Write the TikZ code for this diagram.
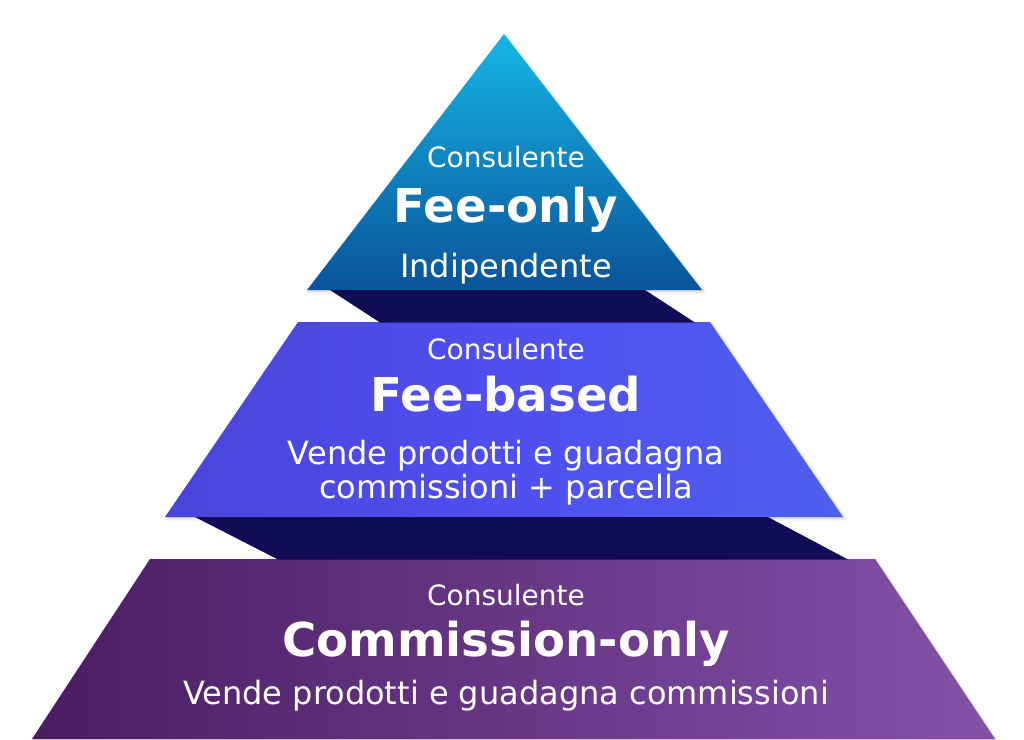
\documentclass[tikz,border=0pt]{standalone}
\usepackage{fontspec}
\setmainfont{DejaVu Sans}
\usetikzlibrary{shadows.blur}
\definecolor{topA}{HTML}{15B6E5}
\definecolor{topB}{HTML}{0A539A}
\definecolor{band}{HTML}{110C56}
\definecolor{botL}{HTML}{4A1D62}
\definecolor{botR}{HTML}{8451A9}
\pgfdeclarehorizontalshading{midshade}{100bp}{rgb(0bp)=(0.27,0.23,0.76); rgb(50bp)=(0.31,0.31,0.94); rgb(100bp)=(0.31,0.43,0.92)}
\tikzset{
  x=0.75pt, y=-0.75pt,
  soft/.style={blur shadow={shadow xshift=1.2pt, shadow yshift=-1.2pt, shadow blur radius=2pt, shadow opacity=22}},
  lbl/.style={text=white, anchor=base, inner sep=0pt},
  small/.style={lbl, font=\fontsize{21}{25}\selectfont},
  title/.style={lbl, font=\fontsize{35}{42}\selectfont\bfseries},
  desc/.style={lbl, font=\fontsize{24}{29}\selectfont},
}
\begin{document}
\begin{tikzpicture}
\useasboundingbox (0,0) rectangle (1024,739);
% bottom level
\shade[soft, left color=botL, right color=botR] (150,559) -- (875,559) -- (995,739) -- (32,739) -- cycle;
% dark band 2
\fill[band] (195,517) -- (768,517) -- (848,559.5) -- (278,559.5) -- cycle;
% middle level
\shade[soft, shading=midshade] (298,322) -- (710,322) -- (843,517) -- (165,517) -- cycle;
% dark band 1
\fill[band] (330,290) -- (645,290) -- (695,322.5) -- (380,322.5) -- cycle;
% top level
\shade[soft, top color=topA, bottom color=topB] (504,34) -- (702,290) -- (307,290) -- cycle;

\node[small] (c1) at (506,167) {Consulente};
\node[title] (t1) at (506,222) {Fee-only};
\node[desc]  (d1) at (506,277) {Indipendente};

\node[small] (c2) at (506,359) {Consulente};
\node[title] (t2) at (506,411) {Fee-based};
\node[desc]  (d2a) at (506,464) {Vende prodotti e guadagna};
\node[desc]  (d2b) at (506,498) {commissioni + parcella};

\node[small] (c3) at (506,605) {Consulente};
\node[title] (t3) at (506,656) {Commission-only};
\node[desc]  (d3) at (506,704) {Vende prodotti e guadagna commissioni};
\end{tikzpicture}
\end{document}
